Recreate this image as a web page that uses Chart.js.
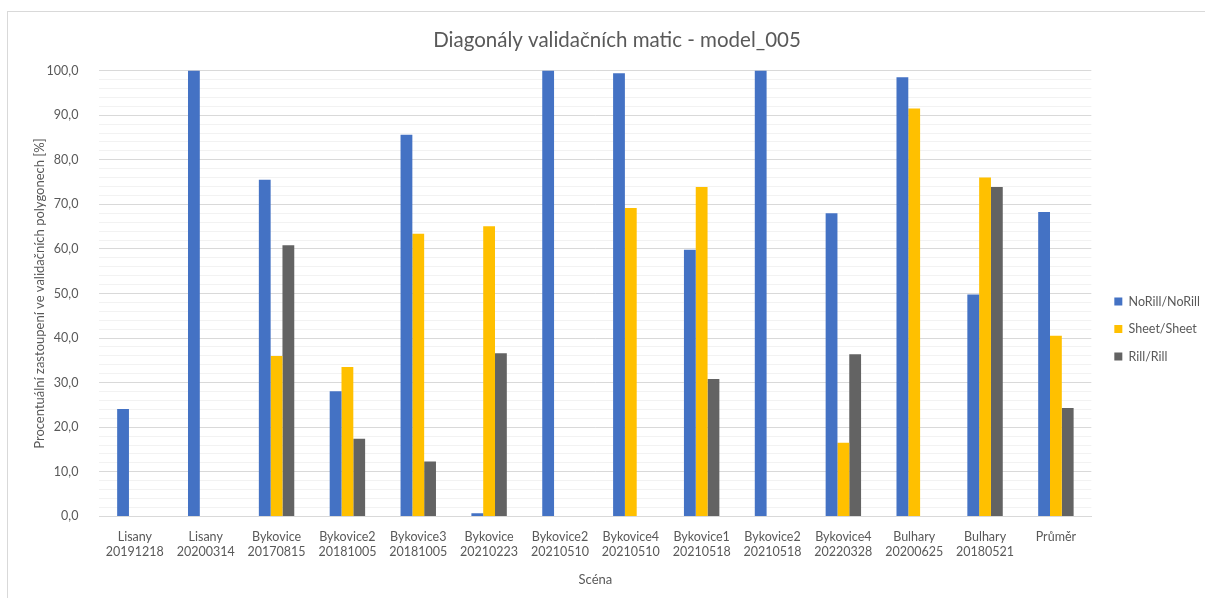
<!DOCTYPE html>
<html>
<head>
<meta charset="utf-8">
<script src="https://cdn.jsdelivr.net/npm/chart.js@4"></script>
<style>
	body { margin: 0; background: #fff; overflow: hidden; }
	#frame { position: absolute; left: 7px; top: 11px; width: 1200px; height: 600px; border-top: 1px solid #d9d9d9; border-left: 1px solid #d9d9d9; }
	#chartBox { position: absolute; left: 0; top: 0; width: 1197px; height: 586px; }
</style>
</head>
<body>
<div id="frame"><div id="chartBox"><canvas id="myChart"></canvas></div></div>
<script>
// scenes on the x axis (name, date)
var scenes = [
	['Lisany', '20191218'], ['Lisany', '20200314'], ['Bykovice', '20170815'], ['Bykovice2', '20181005'],
	['Bykovice3', '20181005'], ['Bykovice', '20210223'], ['Bykovice2', '20210510'], ['Bykovice4', '20210510'],
	['Bykovice1', '20210518'], ['Bykovice2', '20210518'], ['Bykovice4', '20220328'], ['Bulhary', '20200625'],
	['Bulhary', '20180521'], ['Průměr']
];
var noRill = [24.1, 100.0, 75.5, 28.1, 85.6, 0.7, 100.0, 99.4, 59.8, 100.0, 68.0, 98.5, 49.8, 68.3];
var sheet = [0, 0, 36.0, 33.5, 63.4, 65.1, 0, 69.2, 73.9, 0, 16.5, 91.5, 76.0, 40.5];
var rill = [0, 0, 60.8, 17.4, 12.3, 36.6, 0, 0, 30.8, 0, 36.4, 0, 73.9, 24.3];

var textColor = '#595959';
var fontFamily = 'Lato, "Open Sans", sans-serif';

// move the legend a bit lower/right, like the original sits
var legendShift = {
	id: 'legendShift',
	afterLayout: function (chart) {
		var lg = chart.legend;
		lg.top += 23; lg.bottom += 23;
		lg.left += 8; lg.right += 8;
	}
};

var ctx = document.getElementById('myChart').getContext('2d');
new Chart(ctx, {
	type: 'bar',
	data: {
		labels: scenes,
		datasets: [
			{ label: 'NoRill/NoRill', data: noRill, backgroundColor: '#4472c4' },
			{ label: 'Sheet/Sheet', data: sheet, backgroundColor: '#ffc000' },
			{ label: 'Rill/Rill', data: rill, backgroundColor: '#636363' }
		]
	},
	options: {
		responsive: true,
		maintainAspectRatio: false,
		animation: false,
		categoryPercentage: 0.5,
		barPercentage: 1.0,
		layout: { padding: { left: 24, right: 3, top: 8, bottom: 6 } },
		scales: {
			x: {
				grid: { display: false },
				border: { color: '#d9d9d9' },
				ticks: { color: textColor, font: { family: fontFamily, size: 12.5 }, maxRotation: 0, autoSkip: false, padding: 5 },
				title: { display: true, text: 'Scéna', color: textColor, font: { family: fontFamily, size: 13 }, padding: { top: 8 } }
			},
			y: {
				min: 0,
				max: 100,
				border: { display: false },
				grid: {
					drawTicks: false,
					color: function (c) { return c.tick.value % 10 === 0 ? '#d9d9d9' : '#f2f2f2'; }
				},
				ticks: {
					stepSize: 2,
					autoSkip: false,
					padding: 21,
					color: textColor,
					font: { family: fontFamily, size: 12.5 },
					callback: function (v) { return v % 10 === 0 ? v.toFixed(1).replace('.', ',') : ''; }
				},
				title: { display: true, text: 'Procentuální zastoupení ve validačních polygonech [%]', color: textColor, font: { family: fontFamily, size: 13 }, padding: { top: 0, bottom: -22 } }
			}
		},
		plugins: {
			title: { display: true, text: 'Diagonály validačních matic - model_005', color: textColor, font: { family: fontFamily, size: 20.5, weight: 'normal' }, padding: { top: 8, bottom: 18 } },
			legend: {
				position: 'right',
				labels: { color: textColor, font: { family: fontFamily, size: 12.5 }, boxWidth: 8, boxHeight: 8, padding: 15 }
			},
			tooltip: { enabled: false }
		}
	},
	plugins: [legendShift]
});
</script>
</body>
</html>
